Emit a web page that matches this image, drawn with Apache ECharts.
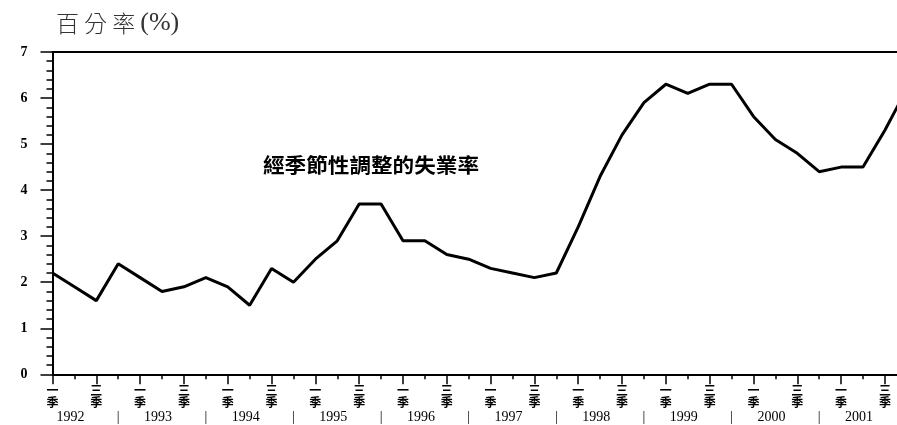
<!DOCTYPE html>
<html>
<head>
<meta charset="utf-8">
<script src="https://cdn.jsdelivr.net/npm/echarts@6/dist/echarts.min.js"></script>
<style>
html,body{margin:0;padding:0;background:#fff;}
#chart{width:897px;height:425px;}
</style>
</head>
<body>
<div id="chart"></div>
<script>
// ---- data ----
var years = ['1992','1993','1994','1995','1996','1997','1998','1999','2000','2001'];
var quarterTickLabels = ['一\n季', '', '三\n季', ''];
var categories = [];
years.forEach(function (y) { ['Q1','Q2','Q3','Q4'].forEach(function (q) { categories.push(y + q); }); });
var unemployment = [
  2.2, 1.9, 1.6, 2.4,
  2.1, 1.8, 1.9, 2.1,
  1.9, 1.5, 2.3, 2.0,
  2.5, 2.9, 3.7, 3.7,
  2.9, 2.9, 2.6, 2.5,
  2.3, 2.2, 2.1, 2.2,
  3.2, 4.3, 5.2, 5.9,
  6.3, 6.1, 6.3, 6.3,
  5.6, 5.1, 4.8, 4.4,
  4.5, 4.5, 5.3, 6.2
];
var yTicks = { min: 0, max: 7, interval: 1 };
var titleMain = '百 分 率 ';
var titleUnit = '(%)';
var seriesLabel = '經季節性調整的失業率';

var serif = '"Liberation Serif", "DejaVu Serif", serif';
var cjk = '"Noto Sans CJK TC", "Noto Sans CJK SC", sans-serif';

var chart = echarts.init(document.getElementById('chart'), null, { renderer: 'canvas' });
chart.setOption({
  backgroundColor: '#ffffff',
  animation: false,
  title: {
    text: titleMain + '{p|' + titleUnit + '}',
    left: 56, top: 10, padding: 0,
    textStyle: {
      fontSize: 23, fontWeight: 300, color: '#333', fontFamily: cjk,
      rich: { p: { fontSize: 26, fontFamily: serif, color: '#333', fontWeight: 'normal' } }
    }
  },
  graphic: [{
    type: 'text',
    x: 263, y: 155,
    scaleX: 1.08,
    style: { text: seriesLabel, fontSize: 20, fontWeight: 'bold', fill: '#000', fontFamily: cjk }
  }],
  grid: { left: 52.5, right: -9.8, top: 52, bottom: 50.7, containLabel: false, outerBoundsMode: 'none' },
  xAxis: [
    {
      type: 'category', data: categories, boundaryGap: false, position: 'bottom',
      axisLine: { show: true, onZero: false, lineStyle: { color: '#000', width: 2 } },
      axisTick: { show: true, interval: 0, length: 5, lineStyle: { color: '#000', width: 1.5 } },
      axisLabel: { show: false },
      splitLine: { show: false }
    },
    {
      type: 'category', data: categories, boundaryGap: false, position: 'bottom',
      axisLine: { show: false },
      axisTick: { show: true, length: 10, interval: function (i) { return i % 2 === 0; },
                  lineStyle: { color: '#000', width: 1.5 } },
      axisLabel: {
        show: true, margin: 10,
        interval: function (i) { return i % 2 === 0; },
        formatter: function (v, i) { return quarterTickLabels[i % 4]; },
        fontSize: 12, lineHeight: 12, fontWeight: 'bold', color: '#000', fontFamily: cjk
      },
      splitLine: { show: false }
    },
    {
      type: 'category', data: categories, boundaryGap: false, position: 'bottom',
      axisLine: { show: false }, axisTick: { show: false },
      axisLabel: {
        show: true, margin: 36, interval: 0,
        formatter: function (v, i) {
          if (i % 4 === 0) return '{y|' + years[Math.floor(i / 4)] + '}';
          if (i % 4 === 3) return '|';
          return '';
        },
        fontSize: 14, color: '#000', fontFamily: serif,
        rich: { y: { fontSize: 14, color: '#000', fontFamily: serif, padding: [0, 0, 0, 36] } }
      },
      splitLine: { show: false }
    },
    {
      type: 'category', data: categories, boundaryGap: false, position: 'top',
      axisLine: { show: true, lineStyle: { color: '#000', width: 2 } },
      axisTick: { show: false }, axisLabel: { show: false }, splitLine: { show: false }
    }
  ],
  yAxis: {
    type: 'value', min: yTicks.min, max: yTicks.max, interval: yTicks.interval,
    axisLine: { show: true, lineStyle: { color: '#000', width: 2 } },
    axisTick: { show: true, length: 12, lineStyle: { color: '#000', width: 1.5 } },
    minorTick: { show: true, splitNumber: 5, length: 6, lineStyle: { color: '#000', width: 1.5 } },
    axisLabel: { margin: 25, fontSize: 14, fontWeight: 'bold', color: '#000', fontFamily: serif },
    splitLine: { show: false }
  },
  series: [{
    name: seriesLabel,
    type: 'line', xAxisIndex: 0, data: unemployment,
    showSymbol: false, symbol: 'none',
    lineStyle: { color: '#000', width: 3 }
  }]
});
</script>
</body>
</html>
